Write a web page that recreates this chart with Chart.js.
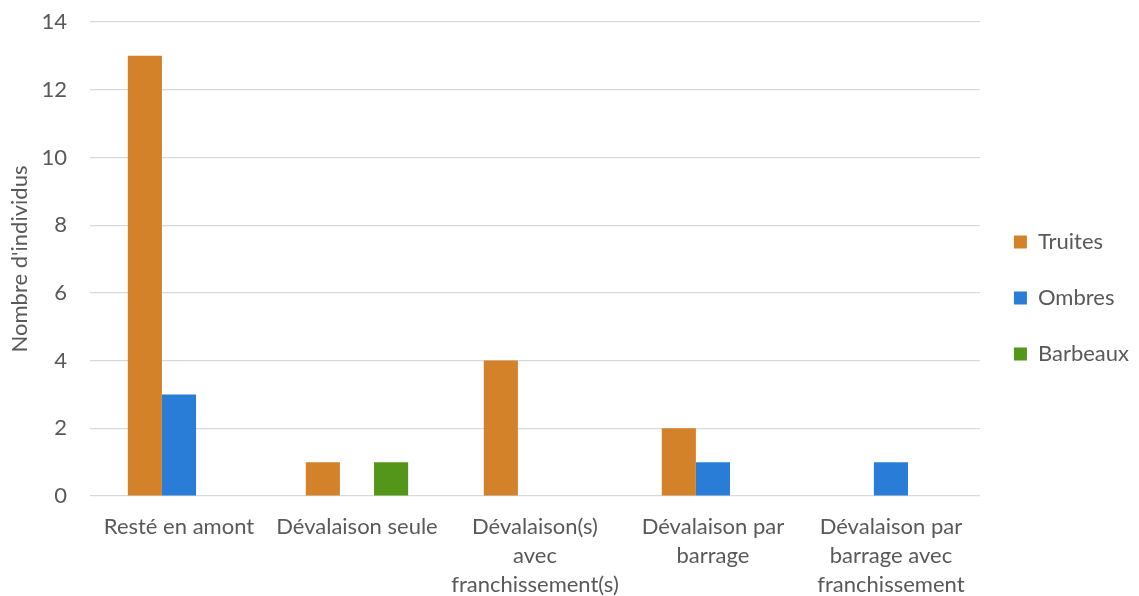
<!DOCTYPE html>
<html>
<head>
<meta charset="utf-8">
<script src="https://cdn.jsdelivr.net/npm/chart.js@4"></script>
<style>
  html, body { margin: 0; padding: 0; background: #ffffff; }
  #wrap { width: 1139px; height: 596px; position: relative; }
</style>
</head>
<body>
<div id="wrap"><canvas id="chart"></canvas></div>
<script>
// Categories (multi-line labels for the x axis)
const categories = [
  ['Resté en amont'],
  ['Dévalaison seule'],
  ['Dévalaison(s)', 'avec', 'franchissement(s)'],
  ['Dévalaison par', 'barrage'],
  ['Dévalaison par', 'barrage avec', 'franchissement']
];

// Number of individuals per species
const truites  = [13, 1, 4, 2, 0];
const ombres   = [3, 0, 0, 1, 1];
const barbeaux = [0, 1, 0, 0, 0];

const seriesNames = ['Truites', 'Ombres', 'Barbeaux'];
const yTicks = [0, 2, 4, 6, 8, 10, 12, 14];

const FONT = 'Lato, "Open Sans", sans-serif';
const TEXT = '#595959';

new Chart(document.getElementById('chart'), {
  type: 'bar',
  data: {
    labels: categories,
    datasets: [
      { label: seriesNames[0], data: truites,  backgroundColor: '#D4822A' },
      { label: seriesNames[1], data: ombres,   backgroundColor: '#2A7DD6' },
      { label: seriesNames[2], data: barbeaux, backgroundColor: '#549619' }
    ]
  },
  options: {
    responsive: true,
    maintainAspectRatio: false,
    animation: false,
    devicePixelRatio: 1,
    datasets: { bar: { categoryPercentage: 0.575, barPercentage: 1.0 } },
    layout: { padding: { top: 0, right: 0, bottom: 0, left: 0 } },
    plugins: {
      tooltip: { enabled: false },
      legend: {
        position: 'right',
        labels: {
          font: { family: FONT, size: 22, lineHeight: 1.2 },
          color: TEXT,
          boxWidth: 13,
          boxHeight: 13,
          padding: 34
        }
      }
    },
    scales: {
      x: {
        grid: { display: false, drawTicks: false },
        border: { display: false },
        afterFit: (scale) => { scale.height = 100; },
        ticks: {
          font: { family: FONT, size: 22, lineHeight: 1.32 },
          color: TEXT,
          maxRotation: 0,
          autoSkip: false,
          padding: 16
        }
      },
      y: {
        min: 0,
        max: 14,
        afterBuildTicks: (axis) => { axis.ticks = yTicks.map(v => ({ value: v })); },
        afterFit: (scale) => { scale.width = 90; scale.paddingTop = 22; },
        grid: { color: '#d9d9d9', lineWidth: 1.2, drawTicks: false },
        border: { display: false },
        ticks: {
          font: { family: FONT, size: 22, lineHeight: 1.2 },
          color: TEXT,
          padding: 23
        },
        title: {
          display: true,
          text: "Nombre d'individus",
          font: { family: FONT, size: 22, lineHeight: 1.2 },
          color: TEXT,
          padding: { top: 7, bottom: 0 }
        }
      }
    }
  }
});
</script>
</body>
</html>
